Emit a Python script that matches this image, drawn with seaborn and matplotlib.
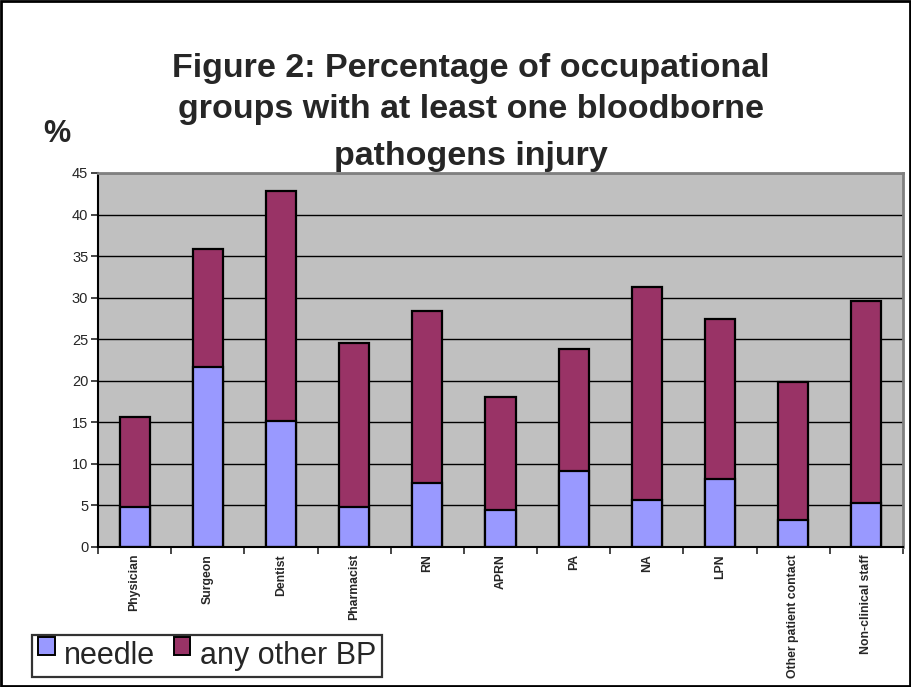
import matplotlib
matplotlib.use("Agg")
import matplotlib.pyplot as plt
import seaborn as sns
import pandas as pd
import numpy as np
from matplotlib.patches import Rectangle, Patch

# values (%)
groups = ["Physician", "Surgeon", "Dentist", "Pharmacist", "RN", "APRN", "PA",
          "NA", "LPN", "Other patient contact", "Non-clinical staff"]
needle = [4.8, 21.7, 15.2, 4.8, 7.7, 4.4, 9.1, 5.6, 8.2, 3.2, 5.3]
other_bp = [10.9, 14.2, 27.6, 19.8, 20.7, 13.7, 14.7, 25.7, 19.2, 16.6, 24.3]
title_lines = ["Figure 2: Percentage of occupational",
               "groups with at least one bloodborne",
               "pathogens injury"]

df = pd.DataFrame({"group": groups, "needle": needle, "other": other_bp})
df["total"] = df["needle"] + df["other"]

sns.set_style("white")
plt.rcParams["font.family"] = ["Liberation Sans", "DejaVu Sans"]

NEEDLE_COL = "#9999FF"
OTHER_COL = "#993366"

W, H = 912, 687
fig = plt.figure(figsize=(W / 100, H / 100), dpi=100)
ax = fig.add_axes([98 / W, 1 - 547 / H, (903 - 98) / W, (547 - 173) / H])
ax.set_facecolor("#C0C0C0")

# stacked bars: total first, needle drawn over it
sns.barplot(data=df, x="group", y="total", color=OTHER_COL, edgecolor="black",
            linewidth=1.6, width=0.41, saturation=1, ax=ax)
sns.barplot(data=df, x="group", y="needle", color=NEEDLE_COL, edgecolor="black",
            linewidth=1.6, width=0.41, saturation=1, ax=ax)

ax.set_xlim(-0.5, len(groups) - 0.5)
ax.set_ylim(0, 45)
ax.set_yticks(np.arange(0, 46, 5))
ax.yaxis.grid(True, color="black", linewidth=1.0)
ax.set_axisbelow(True)
ax.set_xlabel("")
ax.set_ylabel("")

for side in ["top", "right"]:
    ax.spines[side].set_color("#808080")
    ax.spines[side].set_linewidth(2)
for side in ["left", "bottom"]:
    ax.spines[side].set_color("black")
    ax.spines[side].set_linewidth(1.5)

ax.tick_params(axis="y", which="major", direction="out", length=5, width=1.2,
               left=True, labelsize=10.5, pad=2)
ax.set_xticks(range(len(groups)))
ax.set_xticklabels(groups, rotation=90, va="top", ha="center",
                   fontsize=8.8, fontweight="bold")
ax.tick_params(axis="x", which="major", length=0, pad=5)
ax.set_xticks(np.arange(-0.5, len(groups), 1), minor=True)
ax.tick_params(axis="x", which="minor", direction="out", length=5, width=1.2,
               bottom=True)

# title, one line per text so each baseline sits where the reference has it
for line, base in zip(title_lines, [77, 118, 165]):
    fig.text(471 / W, 1 - base / H, line, ha="center", va="baseline",
             fontsize=24.5, fontweight="bold")
fig.text(43 / W, 1 - 142 / H, "%", ha="left", va="baseline", fontsize=22,
         fontweight="bold")

handles = [Patch(facecolor=NEEDLE_COL, edgecolor="black", linewidth=1.4),
           Patch(facecolor=OTHER_COL, edgecolor="black", linewidth=1.4)]
leg = fig.legend(handles, ["needle", "any other BP"], loc="lower left",
                 bbox_to_anchor=(32 / W, 1 - 677 / H), ncol=2, fontsize=22,
                 frameon=True, fancybox=False, edgecolor="black",
                 handlelength=0.55, handleheight=0.55, handletextpad=0.3,
                 columnspacing=0.6, borderpad=0.2, borderaxespad=0)
leg.get_frame().set_linewidth(1.6)
for h in leg.legend_handles:
    h.set_y(h.get_y() + 5)

fig.add_artist(Rectangle((0.001, 0.001), 0.997, 0.997, transform=fig.transFigure,
                         fill=False, edgecolor="black", linewidth=2))

fig.savefig("out.png", dpi=100)
